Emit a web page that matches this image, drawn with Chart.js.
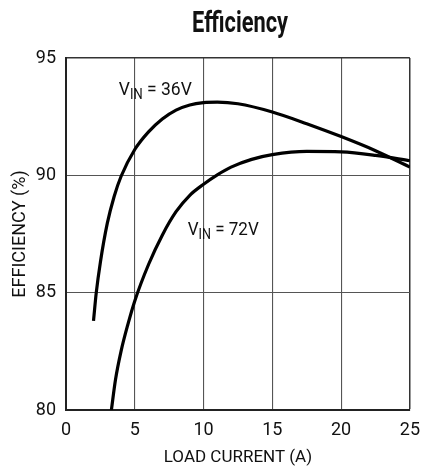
<!DOCTYPE html>
<html>
<head>
<meta charset="utf-8">
<script src="https://cdn.jsdelivr.net/npm/chart.js@4/dist/chart.umd.min.js"></script>
<style>
  html, body { margin: 0; padding: 0; background: #fff; }
  #wrap { width: 430px; height: 470px; position: relative; }
</style>
</head>
<body>
<div id="wrap"><canvas id="c" width="430" height="470"></canvas></div>
<script>
// ---- Data ----
const titleText = "Efficiency";
const xTitle = "LOAD CURRENT (A)";
const yTitle = "EFFICIENCY (%)";
const xTicks = [0, 5, 10, 15, 20, 25];
const yTicks = [80, 85, 90, 95];

const vin36Current = [2.0, 2.2, 2.5, 3.0, 3.5, 4.0, 5.0, 6.0, 7.0, 8.0, 9.0, 10.0, 11.0, 12.5, 15.0, 17.5, 20.0, 22.5, 25.0];
const vin36Eff     = [83.8, 85.0, 86.3, 87.95, 89.1, 89.95, 91.1, 91.85, 92.4, 92.78, 93.0, 93.1, 93.12, 93.05, 92.7, 92.2, 91.65, 91.05, 90.35];

const vin72Current = [3.3, 3.6, 4.0, 4.5, 5.0, 6.0, 7.0, 8.0, 9.0, 10.0, 11.0, 12.0, 13.5, 15.0, 17.5, 20.0, 22.5, 25.0];
const vin72Eff     = [80.0, 81.3, 82.5, 83.65, 84.65, 86.2, 87.45, 88.45, 89.15, 89.62, 90.02, 90.35, 90.68, 90.88, 91.02, 91.0, 90.85, 90.62];

const seriesLabels = ["36V", "72V"];

const FONT = "Roboto, 'Liberation Sans', sans-serif";

function pts(xs, ys) { return xs.map((x, i) => ({ x: x, y: ys[i] })); }

// draw text squeezed horizontally to a target width (condensed look)
function drawSqueezed(ctx, parts, x, y, targetW) {
  let total = 0;
  parts.forEach(p => { ctx.font = p.font; total += ctx.measureText(p.t).width; });
  const k = Math.min(1, targetW / total);
  ctx.save();
  ctx.translate(x, y);
  ctx.scale(k, 1);
  let cx = 0;
  parts.forEach(p => {
    ctx.font = p.font;
    ctx.fillText(p.t, cx, p.dy || 0);
    cx += ctx.measureText(p.t).width;
  });
  ctx.restore();
}

const labelPlugin = {
  id: 'labels',
  afterDraw(chart) {
    const ctx = chart.ctx;
    const xs = chart.scales.x, ys = chart.scales.y;
    ctx.save();
    ctx.fillStyle = '#111';
    ctx.textAlign = 'left';
    ctx.textBaseline = 'alphabetic';
    // title, centred at x = 240
    drawSqueezed(ctx, [{ t: titleText, font: "bold 29px " + FONT }], 192, 32, 96);
    // curve labels with subscript
    const anns = [
      { x: 3.84, y: 93.42, w: 73, val: seriesLabels[0] },
      { x: 8.85, y: 87.46, w: 71, val: seriesLabels[1] }
    ];
    anns.forEach(a => {
      const px = xs.getPixelForValue(a.x);
      const py = ys.getPixelForValue(a.y);
      drawSqueezed(ctx, [
        { t: "V", font: "19px " + FONT },
        { t: "IN", font: "14px " + FONT, dy: 4 },
        { t: " = " + a.val, font: "19px " + FONT }
      ], px, py, a.w);
    });
    ctx.restore();
  }
};

new Chart(document.getElementById('c'), {
  type: 'scatter',
  data: {
    datasets: [
      { label: 'VIN = 36V', data: pts(vin36Current, vin36Eff) },
      { label: 'VIN = 72V', data: pts(vin72Current, vin72Eff) }
    ]
  },
  options: {
    responsive: false,
    animation: false,
    devicePixelRatio: 1,
    showLine: true,
    layout: { padding: { top: 58, right: 12, left: 0, bottom: 0 } },
    elements: {
      point: { radius: 0, hoverRadius: 0 },
      line: { borderColor: '#000', borderWidth: 3.2, cubicInterpolationMode: 'monotone', fill: false, borderCapStyle: 'butt' }
    },
    plugins: {
      legend: { display: false },
      title: { display: false },
      tooltip: { enabled: false }
    },
    scales: {
      x: {
        type: 'linear',
        min: 0, max: 25,
        afterFit(s) { s.height = 60; },
        afterBuildTicks(s) { s.ticks = xTicks.map(v => ({ value: v })); },
        ticks: { color: '#111', padding: 10, font: { family: FONT, size: 18 } },
        grid: {
          drawTicks: false,
          color: ctx => (ctx.tick && ctx.tick.value === 25) ? '#333' : '#555',
          lineWidth: ctx => (ctx.tick && ctx.tick.value === 25) ? 1.5 : 1.1
        },
        border: { color: '#222', width: 2 },
        title: { display: true, text: xTitle, color: '#111', font: { family: FONT, size: 17 }, padding: { top: 0, bottom: 2 } }
      },
      y: {
        type: 'linear',
        min: 80, max: 95,
        afterFit(s) { s.width = 66; },
        afterBuildTicks(s) { s.ticks = yTicks.map(v => ({ value: v })); },
        ticks: { color: '#111', padding: 10, font: { family: FONT, size: 18 } },
        grid: {
          drawTicks: false,
          color: ctx => (ctx.tick && ctx.tick.value === 95) ? '#333' : '#555',
          lineWidth: ctx => (ctx.tick && ctx.tick.value === 95) ? 1.5 : 1.1
        },
        border: { color: '#222', width: 2 },
        title: { display: true, text: yTitle, color: '#111', font: { family: FONT, size: 18 }, padding: { top: 10, bottom: 0 } }
      }
    }
  },
  plugins: [labelPlugin]
});
</script>
</body>
</html>
